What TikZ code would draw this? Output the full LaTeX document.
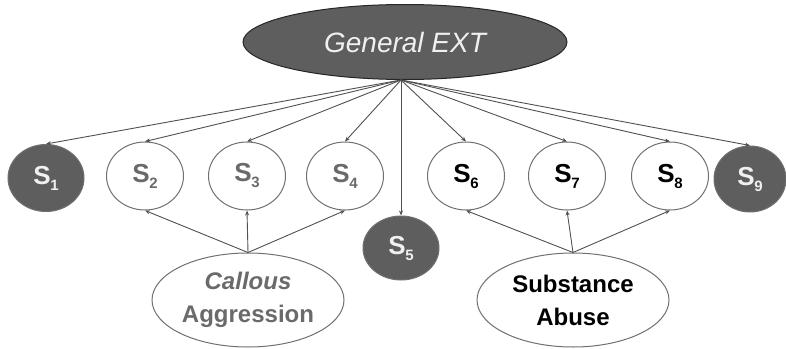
\documentclass[tikz,border=0pt]{standalone}
\usepackage{fontspec}
\setmainfont{Liberation Sans}
\usetikzlibrary{shapes.geometric,arrows.meta}
\definecolor{darkfill}{HTML}{5E5E5E}
\definecolor{lighttext}{HTML}{F0F0F0}
\definecolor{greytext}{HTML}{6A6A6A}
\definecolor{edgegrey}{HTML}{505050}
\definecolor{rimgrey}{HTML}{707070}
% subscripted scale label
\newcommand{\sname}[1]{S\kern-0.5pt\raisebox{-6pt}{\fontsize{15}{15}\selectfont #1}}

\begin{document}
\begin{tikzpicture}[x=1pt, y=-1pt,
  general/.style={ellipse, draw=black!85, line width=1pt, fill=darkfill, text=lighttext, inner sep=0pt,
    minimum width=324pt, minimum height=75pt, font=\fontsize{28}{28}\selectfont\itshape},
  scalebox/.style={ellipse, draw=rimgrey, line width=1pt, fill=white, inner sep=0pt,
    minimum width=77pt, minimum height=68pt, font=\fontsize{26}{26}\selectfont\bfseries},
  darkscale/.style={scalebox, fill=darkfill, text=lighttext},
  factor/.style={ellipse, draw=rimgrey, line width=1pt, fill=white, inner sep=0pt, align=center,
    minimum width=192pt, minimum height=94pt, font=\fontsize{24}{33}\selectfont\bfseries},
  load/.style={draw=edgegrey, line width=0.9pt, -{Stealth[length=5pt,width=4pt]}}
]
  \useasboundingbox (0,0) rectangle (786,348);

  % General factor
  \node[general] (gen) at (405,42) {General EXT};

  % Scales
  \node[darkscale, minimum width=76pt, minimum height=67pt] (s1) at (46,178) {\sname{1}};
  \foreach \i/\x in {2/145, 3/247, 4/345} {
    \node[scalebox, text=greytext] (s\i) at (\x,176) {\sname{\i}};
  }
  \node[darkscale, minimum width=76pt, minimum height=64pt] (s5) at (401,248) {\sname{5}};
  \foreach \i/\x in {6/466, 7/567, 8/670} {
    \node[scalebox, text=black] (s\i) at (\x,176) {\sname{\i}};
  }
  \node[darkscale, minimum width=72pt, minimum height=66pt] (s9) at (750,179) {\sname{9}};

  % Specific factors
  \node[factor, text=greytext] (ca) at (248,300) {\textit{Callous}\\Aggression};
  \node[factor, text=black] (sa) at (573,300) {Substance\\Abuse};

  % Loadings
  \foreach \i in {1,...,9} {
    \draw[load] ([xshift=-4pt]gen.south) -- (s\i.north);
  }
  \foreach \i in {2,3,4} {
    \draw[load] (ca.north) -- (s\i.south);
  }
  \foreach \i in {6,7,8} {
    \draw[load] (sa.north) -- (s\i.south);
  }
\end{tikzpicture}
\end{document}
